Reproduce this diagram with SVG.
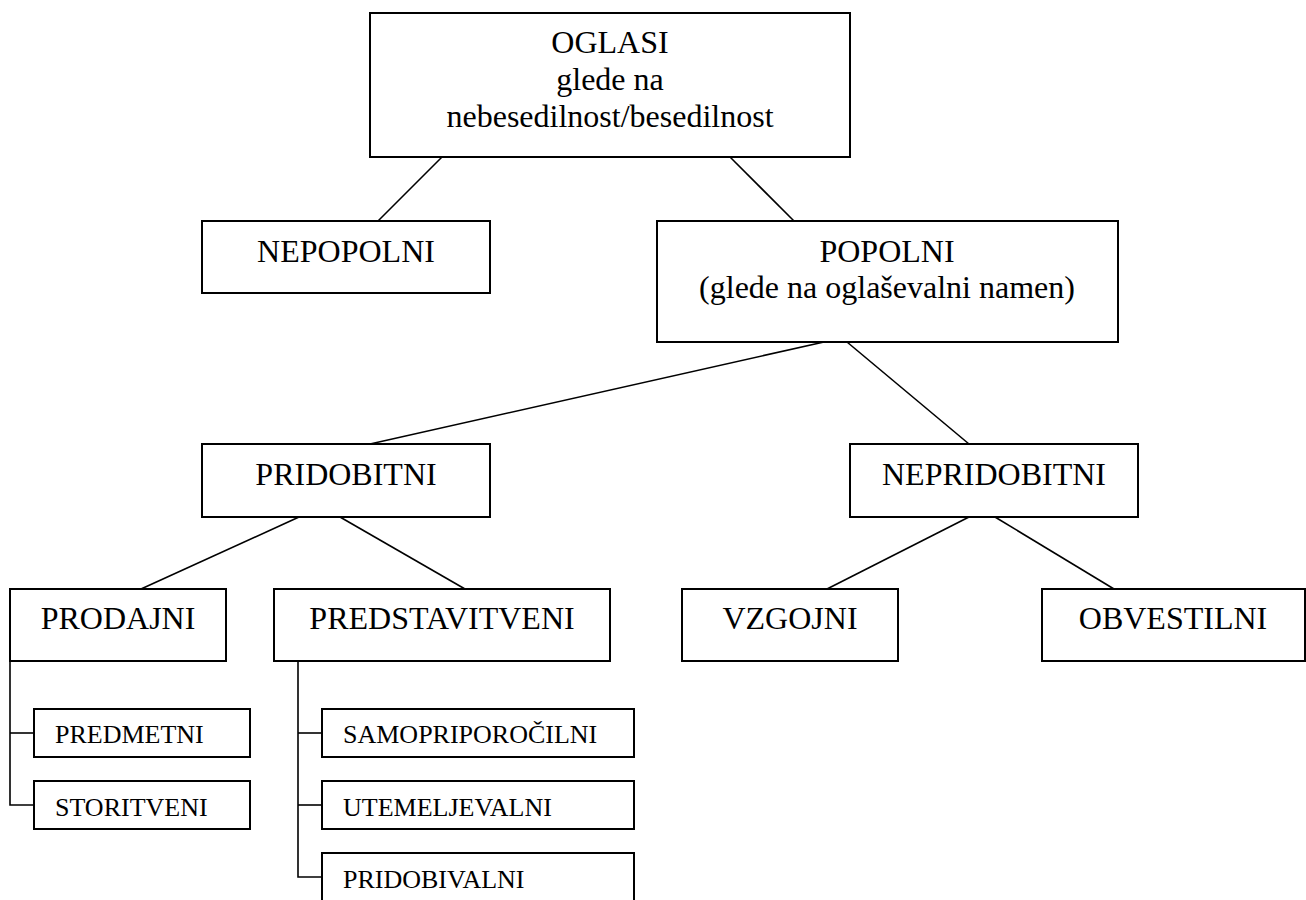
<svg xmlns="http://www.w3.org/2000/svg" width="1306" height="900" viewBox="0 0 1306 900">
<style>
.box{fill:#fff;stroke:#000;stroke-width:2}
.ln{fill:none;stroke:#000;stroke-width:1.6}
.t{font-family:"Liberation Serif","Times New Roman",serif;font-size:32px;fill:#000;text-anchor:middle}
.s{font-family:"Liberation Serif","Times New Roman",serif;font-size:26px;fill:#000}
</style>
<rect width="1306" height="900" fill="#fff"/>
<g id="connectors">
<line class="ln" x1="442" y1="157" x2="378" y2="221"/>
<line class="ln" x1="730" y1="157" x2="794" y2="221"/>
<line class="ln" x1="824" y1="342" x2="370" y2="444"/>
<line class="ln" x1="847" y1="342" x2="969" y2="444"/>
<line class="ln" x1="299" y1="517" x2="141" y2="589"/>
<line class="ln" x1="340" y1="517" x2="465" y2="589"/>
<line class="ln" x1="969" y1="517" x2="827" y2="589"/>
<line class="ln" x1="995" y1="517" x2="1114" y2="589"/>
<polyline class="ln" points="10,661 10,805 34,805"/>
<line class="ln" x1="10" y1="733" x2="34" y2="733"/>
<polyline class="ln" points="298,661 298,877 322,877"/>
<line class="ln" x1="298" y1="733" x2="322" y2="733"/>
<line class="ln" x1="298" y1="805" x2="322" y2="805"/>
</g>
<g id="oglasi">
<rect class="box" x="370" y="13" width="480" height="144"/>
<text class="t" x="610" y="53">OGLASI</text>
<text class="t" x="610" y="90">glede na</text>
<text class="t" x="610" y="127">nebesedilnost/besedilnost</text>
</g>
<g id="nepopolni">
<rect class="box" x="202" y="221" width="288" height="72"/>
<text class="t" x="346" y="262">NEPOPOLNI</text>
</g>
<g id="popolni">
<rect class="box" x="657" y="221" width="461" height="121"/>
<text class="t" x="887" y="262">POPOLNI</text>
<text class="t" x="887" y="298">(glede na oglaševalni namen)</text>
</g>
<g id="pridobitni">
<rect class="box" x="202" y="444" width="288" height="73"/>
<text class="t" x="346" y="485">PRIDOBITNI</text>
</g>
<g id="nepridobitni">
<rect class="box" x="850" y="444" width="288" height="73"/>
<text class="t" x="994" y="485">NEPRIDOBITNI</text>
</g>
<g id="prodajni">
<rect class="box" x="10" y="589" width="216" height="72"/>
<text class="t" x="118" y="629">PRODAJNI</text>
</g>
<g id="predstavitveni">
<rect class="box" x="274" y="589" width="336" height="72"/>
<text class="t" x="442" y="629">PREDSTAVITVENI</text>
</g>
<g id="vzgojni">
<rect class="box" x="682" y="589" width="216" height="72"/>
<text class="t" x="790" y="629">VZGOJNI</text>
</g>
<g id="obvestilni">
<rect class="box" x="1042" y="589" width="263" height="72"/>
<text class="t" x="1173" y="629">OBVESTILNI</text>
</g>
<g id="predmetni">
<rect class="box" x="34" y="709" width="216" height="48"/>
<text class="s" x="55" y="743">PREDMETNI</text>
</g>
<g id="storitveni">
<rect class="box" x="34" y="781" width="216" height="48"/>
<text class="s" x="55" y="816">STORITVENI</text>
</g>
<g id="samopriporocilni">
<rect class="box" x="322" y="709" width="312" height="48"/>
<text class="s" x="343" y="743">SAMOPRIPOROČILNI</text>
</g>
<g id="utemeljevalni">
<rect class="box" x="322" y="781" width="312" height="48"/>
<text class="s" x="343" y="816">UTEMELJEVALNI</text>
</g>
<g id="pridobivalni">
<rect class="box" x="322" y="853" width="312" height="70"/>
<text class="s" x="343" y="888">PRIDOBIVALNI</text>
</g>
</svg>
